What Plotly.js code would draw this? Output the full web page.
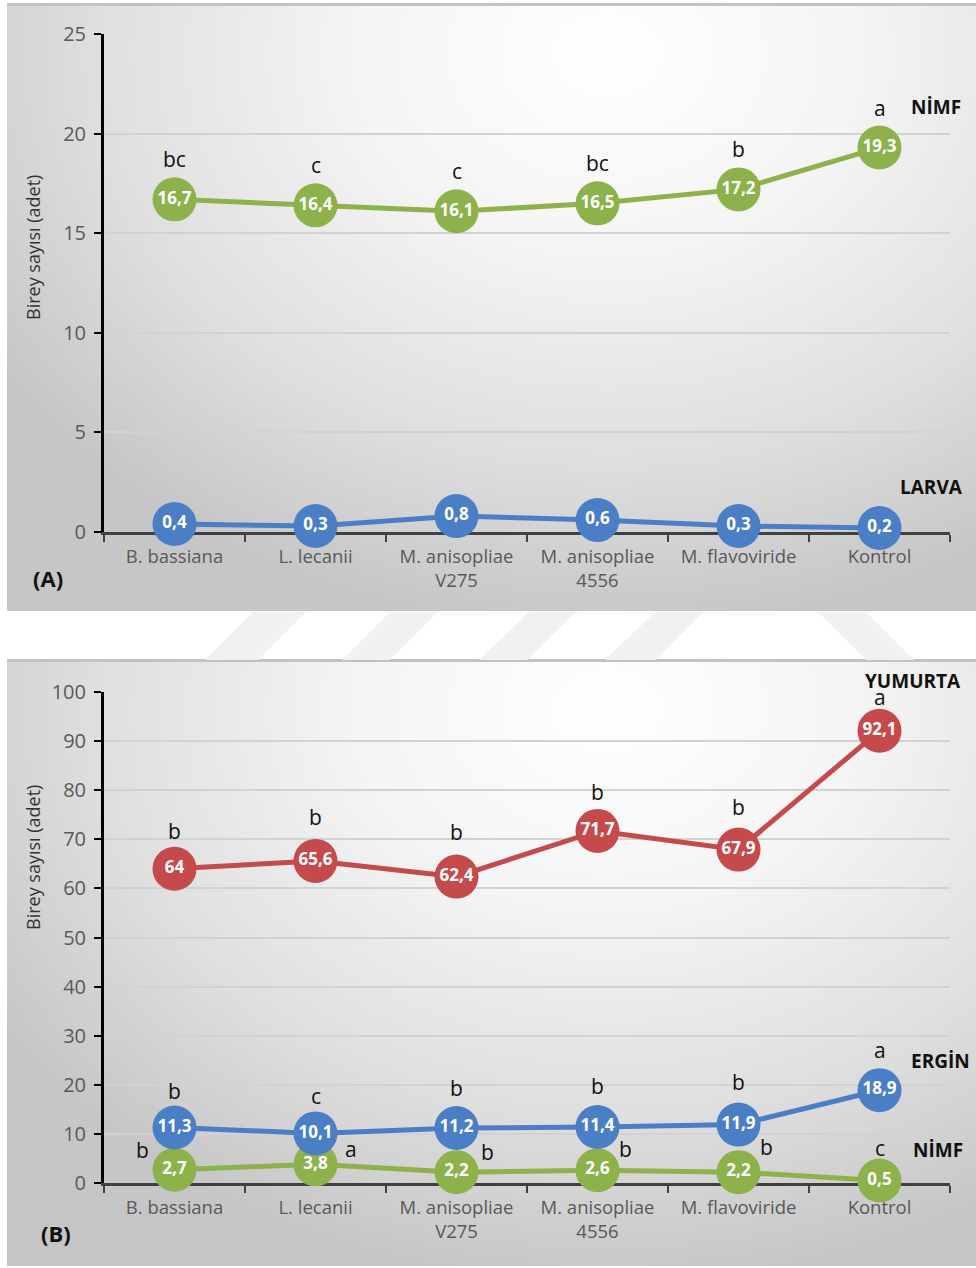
<!DOCTYPE html>
<html>
<head>
<meta charset="utf-8">
<script src="https://cdn.plot.ly/plotly-3.0.1.min.js"></script>
<style>
  html, body { margin:0; padding:0; background:#ffffff; }
  #wrap { position:relative; width:976px; height:1268px; overflow:hidden; }
  .panel { position:absolute; left:7px; width:969px;
    background: radial-gradient(ellipse 75% 95% at 62% 8%, #ffffff 0%, #f4f4f4 35%, #dfdfdf 70%, #c6c6c6 100%);
    border-top: 3px solid #c2c2c2; box-sizing:border-box; }
  #pA { top:3px; height:608px; }
  #pB { top:659px; height:607px; }
  #chart { position:absolute; left:0; top:0; width:976px; height:1268px; }
</style>
</head>
<body>
<div id="wrap">
  <div class="panel" id="pA"></div>
  <div class="panel" id="pB"></div>
  <div id="chart"></div>
</div>
<script>
// ---- data ----
var categories = ['B. bassiana', 'L. lecanii', 'M. anisopliae<br>V275', 'M. anisopliae<br>4556', 'M. flavoviride', 'Kontrol'];

var nimfA = [16.7, 16.4, 16.1, 16.5, 17.2, 19.3];
var nimfALetters = ['bc', 'c', 'c', 'bc', 'b', 'a'];
var larvaA = [0.4, 0.3, 0.8, 0.6, 0.3, 0.2];

var yumurtaB = [64, 65.6, 62.4, 71.7, 67.9, 92.1];
var yumurtaBLetters = ['b', 'b', 'b', 'b', 'b', 'a'];
var erginB = [11.3, 10.1, 11.2, 11.4, 11.9, 18.9];
var erginBLetters = ['b', 'c', 'b', 'b', 'b', 'a'];
var nimfB = [2.7, 3.8, 2.2, 2.6, 2.2, 0.5];
var nimfBLetters = ['b', 'a', 'b', 'b', 'b', 'c'];

var yTicksA = [0, 5, 10, 15, 20, 25];
var yTicksB = [0, 10, 20, 30, 40, 50, 60, 70, 80, 90, 100];

// ---- styling ----
var W = 976, H = 1268;
var GREEN = '#8db24c', BLUE = '#4a7fc5', RED = '#c44a4b';
var FONT = 'Open Sans, Noto Sans, sans-serif';
function px(x) { return x / W; }
function py(y) { return 1 - y / H; }
function fmt(v) { return String(v).replace('.', ','); }

function series(vals, color, xa, ya) {
  return {
    x: categories, y: vals, xaxis: xa, yaxis: ya,
    type: 'scatter', mode: 'lines+markers+text',
    line: { color: color, width: 5 },
    marker: { color: color, size: 44, line: { width: 0 } },
    text: vals.map(fmt), textposition: 'middle center',
    textfont: { family: FONT, size: 17, color: '#ffffff', weight: 'bold' },
    cliponaxis: false, hoverinfo: 'skip', showlegend: false
  };
}

var data = [
  series(nimfA, GREEN, 'x', 'y'),
  series(larvaA, BLUE, 'x', 'y'),
  series(yumurtaB, RED, 'x2', 'y2'),
  series(nimfB, GREEN, 'x2', 'y2'),
  series(erginB, BLUE, 'x2', 'y2')
];

var ann = [];
function letters(vals, lets, xr, yr, dx, dy) {
  vals.forEach(function (v, i) {
    ann.push({ x: categories[i], y: v, xref: xr, yref: yr, text: lets[i], showarrow: false,
      xshift: Array.isArray(dx) ? dx[i] : dx, yshift: Array.isArray(dy) ? dy[i] : dy,
      font: { family: FONT, size: 21, color: '#111111' } });
  });
}
letters(nimfA, nimfALetters, 'x', 'y', 0, 40);
letters(yumurtaB, yumurtaBLetters, 'x2', 'y2', 0, [38, 44, 45, 39, 43, 34]);
letters(erginB, erginBLetters, 'x2', 'y2', 0, [37, 37, 40, 41, 43, 40]);
letters(nimfB, nimfBLetters, 'x2', 'y2', [-32, 35, 31, 28, 28, 0], [20, 15, 20, 21, 25, 33]);

function lab(text, x, y, size, anchor) {
  ann.push({ x: px(x), y: py(y), xref: 'paper', yref: 'paper', text: text, showarrow: false,
    xanchor: anchor || 'center', yanchor: 'middle',
    font: { family: FONT, size: size, color: '#111111', weight: 'bold' } });
}
lab('NİMF', 936, 107, 19);
lab('LARVA', 931, 487, 19);
lab('YUMURTA', 913, 681, 19);
lab('ERGİN', 940, 1061, 19);
lab('NİMF', 938, 1150, 19);
lab('(A)', 48, 578, 22);
lab('(B)', 56, 1233, 22);

function ytitle(y) {
  ann.push({ x: px(33), y: py(y), xref: 'paper', yref: 'paper', text: 'Birey sayısı (adet)',
    textangle: -90, showarrow: false, xanchor: 'center', yanchor: 'middle',
    font: { family: FONT, size: 18, color: '#333333' } });
}
ytitle(248);
ytitle(858);

// watermark stripes in the gap
var shapes = [];
var stripes = [[205, 258, 253, 306], [342, 390, 390, 438], [479, 527, 529, 576], [605, 656, 655, 703]];
stripes.forEach(function (s) {
  shapes.push({ type: 'path', xref: 'paper', yref: 'paper', layer: 'below',
    path: 'M' + px(s[0]) + ',' + py(660) + ' L' + px(s[1]) + ',' + py(660) + ' L' + px(s[3]) + ',' + py(612) + ' L' + px(s[2]) + ',' + py(612) + ' Z',
    fillcolor: '#f1f1f1', line: { width: 0 } });
});
shapes.push({ type: 'path', xref: 'paper', yref: 'paper', layer: 'below',
  path: 'M' + px(818) + ',' + py(612) + ' L' + px(866) + ',' + py(612) + ' L' + px(914) + ',' + py(660) + ' L' + px(866) + ',' + py(660) + ' Z',
  fillcolor: '#f1f1f1', line: { width: 0 } });

var xDom = [px(104), px(950)];
function xaxis(anchor) {
  return { domain: xDom, anchor: anchor, type: 'category', range: [-0.5, 5.5],
    showline: true, linecolor: '#404040', linewidth: 3, ticks: 'outside', tickson: 'boundaries',
    ticklen: 7, tickwidth: 2, tickcolor: '#404040', showgrid: false, zeroline: false,
    ticklabelstandoff: 6,
    tickfont: { family: FONT, size: 18.5, color: '#595959' }, layer: 'below traces', fixedrange: true };
}
function yaxis(anchor, dom, rng, ticks) {
  return { domain: dom, anchor: anchor, range: rng, tickvals: ticks,
    showline: true, linecolor: '#000000', linewidth: 3, ticks: 'outside', ticklen: 7, tickwidth: 2,
    tickcolor: '#000000', showgrid: true, gridcolor: '#d2d2d2', gridwidth: 2, zeroline: false,
    ticklabelstandoff: 4,
    tickfont: { family: FONT, size: 20, color: '#595959' }, layer: 'below traces', fixedrange: true };
}

var layout = {
  width: W, height: H, margin: { l: 0, r: 0, t: 0, b: 0 },
  paper_bgcolor: 'rgba(0,0,0,0)', plot_bgcolor: 'rgba(0,0,0,0)',
  font: { family: FONT },
  xaxis: xaxis('y'),
  yaxis: yaxis('x', [py(532), py(34)], [0, 25], yTicksA),
  xaxis2: xaxis('y2'),
  yaxis2: yaxis('x2', [py(1183), py(692)], [0, 100], yTicksB),
  annotations: ann,
  shapes: shapes,
  showlegend: false
};

Plotly.newPlot('chart', data, layout, { staticPlot: true, displayModeBar: false });
</script>
</body>
</html>
